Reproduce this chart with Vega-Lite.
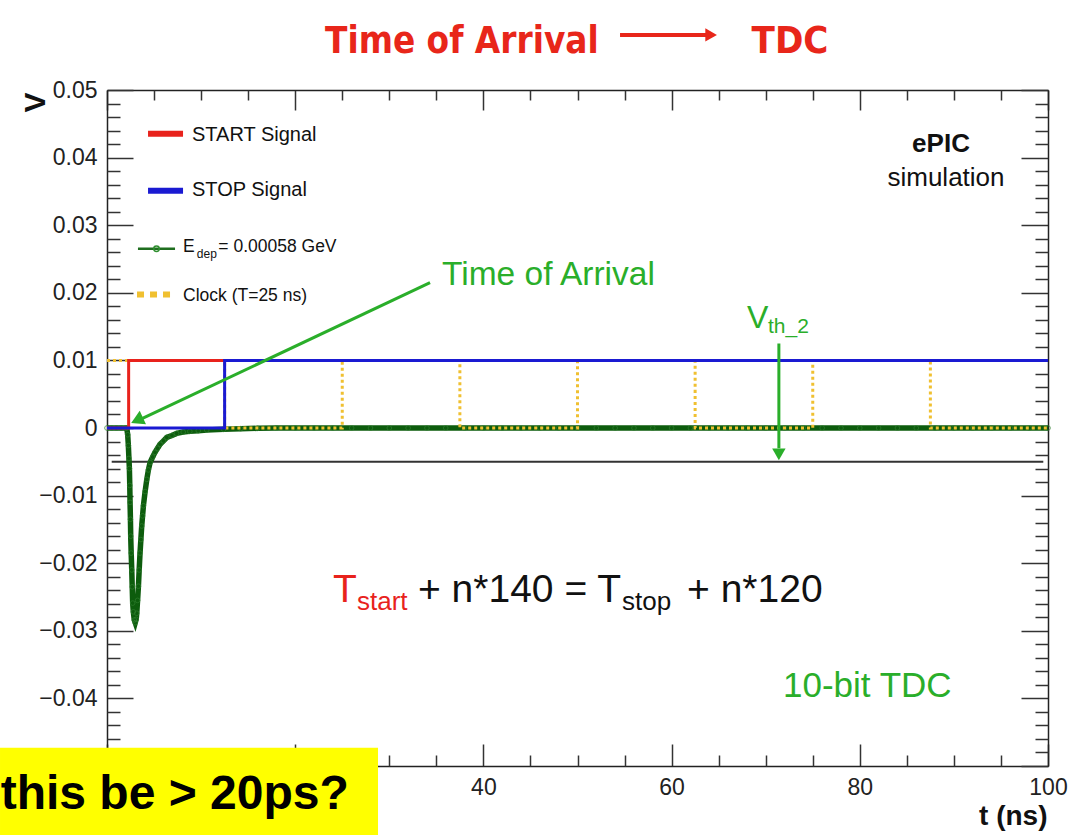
{
  "$schema": "https://vega.github.io/schema/vega-lite/v6.json",
  "width": 941,
  "height": 676,
  "autosize": {"type": "none"},
  "padding": {"left": 107, "top": 90, "right": 23, "bottom": 69},
  "background": "white",
  "config": {"view": {"stroke": null}, "font": "Liberation Sans"},
  "datasets": {
    "one": [{}],
    "thresh": [{"t": 0.5, "v": -0.005}, {"t": 99.5, "v": -0.005}],
    "edep": [
      {"t": 0, "v": 0}, {"t": 0.5, "v": 0}, {"t": 1.0, "v": 0}, {"t": 1.5, "v": 0}, {"t": 2.0, "v": 0}, {"t": 2.1, "v": 0},
      {"t": 2.2, "v": -0.001}, {"t": 2.27, "v": -0.0026}, {"t": 2.33, "v": -0.0045}, {"t": 2.38, "v": -0.006},
      {"t": 2.42, "v": -0.0085}, {"t": 2.45, "v": -0.011}, {"t": 2.49, "v": -0.0135}, {"t": 2.52, "v": -0.016},
      {"t": 2.57, "v": -0.0185}, {"t": 2.63, "v": -0.021}, {"t": 2.68, "v": -0.0235}, {"t": 2.73, "v": -0.0259},
      {"t": 2.8, "v": -0.0272}, {"t": 2.9, "v": -0.0284}, {"t": 3.0, "v": -0.0288}, {"t": 3.1, "v": -0.0283},
      {"t": 3.16, "v": -0.0274}, {"t": 3.25, "v": -0.0255}, {"t": 3.34, "v": -0.0234}, {"t": 3.42, "v": -0.021},
      {"t": 3.51, "v": -0.0185}, {"t": 3.6, "v": -0.0165}, {"t": 3.69, "v": -0.0145}, {"t": 3.78, "v": -0.013},
      {"t": 3.87, "v": -0.0115}, {"t": 4.05, "v": -0.0094}, {"t": 4.23, "v": -0.0076}, {"t": 4.4, "v": -0.0062},
      {"t": 4.58, "v": -0.0051}, {"t": 4.85, "v": -0.0043}, {"t": 5.1, "v": -0.0036}, {"t": 5.37, "v": -0.003},
      {"t": 5.64, "v": -0.0024}, {"t": 6.0, "v": -0.0019}, {"t": 6.35, "v": -0.0014}, {"t": 6.9, "v": -0.0011},
      {"t": 7.4, "v": -0.0008}, {"t": 8.1, "v": -0.0006}, {"t": 8.8, "v": -0.0005}, {"t": 9.7, "v": -0.0004},
      {"t": 10.6, "v": -0.0003}, {"t": 12.4, "v": -0.0002}, {"t": 14.2, "v": -0.0001}, {"t": 16, "v": -0.00005},
      {"t": 18, "v": 0}, {"t": 20, "v": 0}, {"t": 22, "v": 0}, {"t": 24, "v": 0}, {"t": 26, "v": 0}, {"t": 28, "v": 0},
      {"t": 30, "v": 0}, {"t": 32, "v": 0}, {"t": 34, "v": 0}, {"t": 36, "v": 0}, {"t": 38, "v": 0}, {"t": 40, "v": 0},
      {"t": 42, "v": 0}, {"t": 44, "v": 0}, {"t": 46, "v": 0}, {"t": 48, "v": 0}, {"t": 50, "v": 0}, {"t": 52, "v": 0},
      {"t": 54, "v": 0}, {"t": 56, "v": 0}, {"t": 58, "v": 0}, {"t": 60, "v": 0}, {"t": 62, "v": 0}, {"t": 64, "v": 0},
      {"t": 66, "v": 0}, {"t": 68, "v": 0}, {"t": 70, "v": 0}, {"t": 72, "v": 0}, {"t": 74, "v": 0}, {"t": 76, "v": 0},
      {"t": 78, "v": 0}, {"t": 80, "v": 0}, {"t": 82, "v": 0}, {"t": 84, "v": 0}, {"t": 86, "v": 0}, {"t": 88, "v": 0},
      {"t": 90, "v": 0}, {"t": 92, "v": 0}, {"t": 94, "v": 0}, {"t": 96, "v": 0}, {"t": 98, "v": 0}, {"t": 100, "v": 0}
    ],
    "clock": [
      {"t": 0, "v": 0.01}, {"t": 12.5, "v": 0}, {"t": 25, "v": 0.01}, {"t": 37.5, "v": 0}, {"t": 50, "v": 0.01},
      {"t": 62.5, "v": 0}, {"t": 75, "v": 0.01}, {"t": 87.5, "v": 0}, {"t": 100, "v": 0}
    ],
    "start": [{"t": 0, "v": 0}, {"t": 2.3, "v": 0.01}, {"t": 100, "v": 0.01}],
    "stop": [{"t": 0, "v": 0}, {"t": 12.5, "v": 0.01}, {"t": 100, "v": 0.01}]
  },
  "resolve": {"axis": {"x": "independent", "y": "independent"}},
  "layer": [
    {
      "data": {"name": "thresh"},
      "mark": {"type": "line", "color": "#333333", "strokeWidth": 2},
      "encoding": {
        "x": {"field": "t", "type": "quantitative", "scale": {"domain": [0, 100], "nice": false, "zero": false},
          "axis": {"orient": "bottom", "values": [0, 20, 40, 60, 80, 100], "format": "d", "labelExpr": "datum.value < 30 ? '' : datum.label", "tickSize": -22, "labelPadding": 32,
            "labelFontSize": 23, "labelFont": "Liberation Sans", "labelColor": "#222", "labelFlush": false, "labelOverlap": false,
            "domainColor": "#222", "domainWidth": 1.5, "tickColor": "#333", "tickWidth": 1.5, "grid": false,
            "title": "t (ns)", "titleFont": "Liberation Sans", "titleFontSize": 28, "titleFontWeight": "bold", "titleColor": "#111",
            "titleX": 940, "titleY": 58, "titleAlign": "right", "titleBaseline": "alphabetic", "titleAnchor": "end"}},
        "y": {"field": "v", "type": "quantitative", "scale": {"domain": [-0.05, 0.05], "nice": false, "zero": false},
          "axis": {"orient": "left", "values": [-0.05, -0.04, -0.03, -0.02, -0.01, 0, 0.01, 0.02, 0.03, 0.04, 0.05], "format": ".2~f", "labelExpr": "datum.value < -0.045 ? '' : datum.label",
            "tickSize": -26, "labelPadding": 36, "labelFontSize": 23, "labelFont": "Liberation Sans", "labelColor": "#222", "labelFlush": false, "labelOverlap": false,
            "domainColor": "#222", "domainWidth": 1.5, "tickColor": "#333", "tickWidth": 1.5, "grid": false,
            "title": "V", "titleFont": "Liberation Sans", "titleFontSize": 30, "titleFontWeight": "bold", "titleColor": "#111",
            "titleX": -72, "titleY": 12, "titleAlign": "center", "titleBaseline": "middle", "titleAngle": -90}}
      }
    },
    {
      "data": {"name": "edep"},
      "mark": {"type": "line", "color": "#0d5c0d", "strokeWidth": 5.5},
      "encoding": {
        "x": {"field": "t", "type": "quantitative", "scale": {"domain": [0, 100], "nice": false, "zero": false},
          "axis": {"orient": "bottom", "values": [5, 10, 15, 25, 30, 35, 45, 50, 55, 65, 70, 75, 85, 90, 95], "tickSize": -11, "labels": false, "domain": false,
            "tickColor": "#333", "tickWidth": 1.5, "grid": false, "title": null}},
        "y": {"field": "v", "type": "quantitative", "scale": {"domain": [-0.05, 0.05], "nice": false, "zero": false},
          "axis": {"orient": "left", "values": [-0.048, -0.046, -0.044, -0.042, -0.038, -0.036, -0.034, -0.032, -0.028, -0.026, -0.024, -0.022, -0.018, -0.016, -0.014, -0.012, -0.008, -0.006, -0.004, -0.002, 0.002, 0.004, 0.006, 0.008, 0.012, 0.014, 0.016, 0.018, 0.022, 0.024, 0.026, 0.028, 0.032, 0.034, 0.036, 0.038, 0.042, 0.044, 0.046, 0.048],
            "tickSize": -13, "labels": false, "domain": false, "tickColor": "#333", "tickWidth": 1.5, "grid": false, "title": null}}
      }
    },
    {
      "data": {"name": "edep"},
      "mark": {"type": "point", "filled": false, "color": "#2f7f2f", "size": 22, "strokeWidth": 1},
      "encoding": {
        "x": {"field": "t", "type": "quantitative", "scale": {"domain": [0, 100], "nice": false, "zero": false},
          "axis": {"orient": "top", "values": [0, 20, 40, 60, 80, 100], "tickSize": -20, "labels": false,
            "domainColor": "#222", "domainWidth": 1.5, "tickColor": "#333", "tickWidth": 1.5, "grid": false, "title": null}},
        "y": {"field": "v", "type": "quantitative", "scale": {"domain": [-0.05, 0.05], "nice": false, "zero": false},
          "axis": {"orient": "right", "values": [-0.05, -0.04, -0.03, -0.02, -0.01, 0, 0.01, 0.02, 0.03, 0.04, 0.05], "tickSize": -27, "labels": false,
            "domainColor": "#222", "domainWidth": 1.5, "tickColor": "#333", "tickWidth": 1.5, "grid": false, "title": null}}
      }
    },
    {
      "data": {"name": "clock"},
      "mark": {"type": "line", "interpolate": "step-after", "color": "#f0c030", "strokeWidth": 3, "strokeDash": [3, 3]},
      "encoding": {
        "x": {"field": "t", "type": "quantitative", "scale": {"domain": [0, 100], "nice": false, "zero": false},
          "axis": {"orient": "top", "values": [5, 10, 15, 25, 30, 35, 45, 50, 55, 65, 70, 75, 85, 90, 95], "tickSize": -10, "labels": false, "domain": false,
            "tickColor": "#333", "tickWidth": 1.5, "grid": false, "title": null}},
        "y": {"field": "v", "type": "quantitative", "scale": {"domain": [-0.05, 0.05], "nice": false, "zero": false},
          "axis": {"orient": "right", "values": [-0.048, -0.046, -0.044, -0.042, -0.038, -0.036, -0.034, -0.032, -0.028, -0.026, -0.024, -0.022, -0.018, -0.016, -0.014, -0.012, -0.008, -0.006, -0.004, -0.002, 0.002, 0.004, 0.006, 0.008, 0.012, 0.014, 0.016, 0.018, 0.022, 0.024, 0.026, 0.028, 0.032, 0.034, 0.036, 0.038, 0.042, 0.044, 0.046, 0.048],
            "tickSize": -13, "labels": false, "domain": false, "tickColor": "#333", "tickWidth": 1.5, "grid": false, "title": null}}
      }
    },
    {
      "data": {"name": "start"},
      "mark": {"type": "line", "interpolate": "step-after", "color": "#e8221c", "strokeWidth": 3},
      "encoding": {
        "x": {"field": "t", "type": "quantitative", "scale": {"domain": [0, 100], "nice": false, "zero": false}, "axis": null},
        "y": {"field": "v", "type": "quantitative", "scale": {"domain": [-0.05, 0.05], "nice": false, "zero": false}, "axis": null}
      }
    },
    {
      "data": {"name": "stop"},
      "mark": {"type": "line", "interpolate": "step-after", "color": "#1a1ad2", "strokeWidth": 3},
      "encoding": {
        "x": {"field": "t", "type": "quantitative", "scale": {"domain": [0, 100], "nice": false, "zero": false}, "axis": null},
        "y": {"field": "v", "type": "quantitative", "scale": {"domain": [-0.05, 0.05], "nice": false, "zero": false}, "axis": null}
      }
    },
    {
      "data": {"name": "one"},
      "mark": {"type": "rule", "color": "#2aae2a", "strokeWidth": 3},
      "encoding": {
        "x": {"datum": 34.33, "type": "quantitative", "scale": {"domain": [0, 100], "nice": false, "zero": false}, "axis": null},
        "x2": {"datum": 3.6},
        "y": {"datum": 0.02152, "type": "quantitative", "scale": {"domain": [-0.05, 0.05], "nice": false, "zero": false}, "axis": null},
        "y2": {"datum": 0.0013}
      }
    },
    {
      "data": {"name": "one"},
      "mark": {"type": "point", "shape": "triangle-up", "filled": true, "color": "#2aae2a", "size": 220, "angle": 245, "opacity": 1},
      "encoding": {
        "x": {"datum": 3.19, "type": "quantitative", "scale": {"domain": [0, 100], "nice": false, "zero": false}, "axis": null},
        "y": {"datum": 0.00114, "type": "quantitative", "scale": {"domain": [-0.05, 0.05], "nice": false, "zero": false}, "axis": null}
      }
    },
    {
      "data": {"name": "one"},
      "mark": {"type": "text", "text": "Time of Arrival", "font": "Liberation Sans", "fontSize": 33.5, "color": "#2aae2a", "align": "left", "baseline": "alphabetic"},
      "encoding": {
        "x": {"datum": 35.6, "type": "quantitative", "scale": {"domain": [0, 100], "nice": false, "zero": false}, "axis": null},
        "y": {"datum": 0.02108, "type": "quantitative", "scale": {"domain": [-0.05, 0.05], "nice": false, "zero": false}, "axis": null}
      }
    },
    {
      "data": {"name": "one"},
      "mark": {"type": "rule", "color": "#2aae2a", "strokeWidth": 3},
      "encoding": {
        "x": {"datum": 71.4, "type": "quantitative", "scale": {"domain": [0, 100], "nice": false, "zero": false}, "axis": null},
        "y": {"datum": 0.0125, "type": "quantitative", "scale": {"domain": [-0.05, 0.05], "nice": false, "zero": false}, "axis": null},
        "y2": {"datum": -0.003}
      }
    },
    {
      "data": {"name": "one"},
      "mark": {"type": "point", "shape": "triangle-down", "filled": true, "color": "#2aae2a", "size": 180, "opacity": 1},
      "encoding": {
        "x": {"datum": 71.4, "type": "quantitative", "scale": {"domain": [0, 100], "nice": false, "zero": false}, "axis": null},
        "y": {"datum": -0.0039, "type": "quantitative", "scale": {"domain": [-0.05, 0.05], "nice": false, "zero": false}, "axis": null}
      }
    },
    {
      "data": {"name": "one"},
      "mark": {"type": "text", "text": "V", "font": "Liberation Sans", "fontSize": 32, "color": "#2aae2a", "align": "left", "baseline": "alphabetic"},
      "encoding": {
        "x": {"datum": 68.0, "type": "quantitative", "scale": {"domain": [0, 100], "nice": false, "zero": false}, "axis": null},
        "y": {"datum": 0.01473, "type": "quantitative", "scale": {"domain": [-0.05, 0.05], "nice": false, "zero": false}, "axis": null}
      }
    },
    {
      "data": {"name": "one"},
      "mark": {"type": "text", "text": "th_2", "font": "Liberation Sans", "fontSize": 21, "color": "#2aae2a", "align": "left", "baseline": "alphabetic"},
      "encoding": {
        "x": {"datum": 70.24, "type": "quantitative", "scale": {"domain": [0, 100], "nice": false, "zero": false}, "axis": null},
        "y": {"datum": 0.01399, "type": "quantitative", "scale": {"domain": [-0.05, 0.05], "nice": false, "zero": false}, "axis": null}
      }
    },
    {
      "data": {"name": "one"},
      "mark": {"type": "text", "text": "T", "font": "Liberation Sans", "fontSize": 39, "color": "#e8221c", "align": "left", "baseline": "alphabetic"},
      "encoding": {
        "x": {"datum": 24.02, "type": "quantitative", "scale": {"domain": [0, 100], "nice": false, "zero": false}, "axis": null},
        "y": {"datum": -0.02576, "type": "quantitative", "scale": {"domain": [-0.05, 0.05], "nice": false, "zero": false}, "axis": null}
      }
    },
    {
      "data": {"name": "one"},
      "mark": {"type": "text", "text": "start", "font": "Liberation Sans", "fontSize": 26, "color": "#e8221c", "align": "left", "baseline": "alphabetic"},
      "encoding": {
        "x": {"datum": 26.57, "type": "quantitative", "scale": {"domain": [0, 100], "nice": false, "zero": false}, "axis": null},
        "y": {"datum": -0.02693, "type": "quantitative", "scale": {"domain": [-0.05, 0.05], "nice": false, "zero": false}, "axis": null}
      }
    },
    {
      "data": {"name": "one"},
      "mark": {"type": "text", "text": "+ n*140 = T", "font": "Liberation Sans", "fontSize": 39, "color": "#111111", "align": "left", "baseline": "alphabetic"},
      "encoding": {
        "x": {"datum": 33.05, "type": "quantitative", "scale": {"domain": [0, 100], "nice": false, "zero": false}, "axis": null},
        "y": {"datum": -0.02576, "type": "quantitative", "scale": {"domain": [-0.05, 0.05], "nice": false, "zero": false}, "axis": null}
      }
    },
    {
      "data": {"name": "one"},
      "mark": {"type": "text", "text": "stop", "font": "Liberation Sans", "fontSize": 26, "color": "#111111", "align": "left", "baseline": "alphabetic"},
      "encoding": {
        "x": {"datum": 54.73, "type": "quantitative", "scale": {"domain": [0, 100], "nice": false, "zero": false}, "axis": null},
        "y": {"datum": -0.02693, "type": "quantitative", "scale": {"domain": [-0.05, 0.05], "nice": false, "zero": false}, "axis": null}
      }
    },
    {
      "data": {"name": "one"},
      "mark": {"type": "text", "text": "+ n*120", "font": "Liberation Sans", "fontSize": 39, "color": "#111111", "align": "left", "baseline": "alphabetic"},
      "encoding": {
        "x": {"datum": 61.64, "type": "quantitative", "scale": {"domain": [0, 100], "nice": false, "zero": false}, "axis": null},
        "y": {"datum": -0.02576, "type": "quantitative", "scale": {"domain": [-0.05, 0.05], "nice": false, "zero": false}, "axis": null}
      }
    },
    {
      "data": {"name": "one"},
      "mark": {"type": "text", "text": "10-bit TDC", "font": "Liberation Sans", "fontSize": 35, "color": "#2aae2a", "align": "left", "baseline": "alphabetic"},
      "encoding": {
        "x": {"datum": 71.84, "type": "quantitative", "scale": {"domain": [0, 100], "nice": false, "zero": false}, "axis": null},
        "y": {"datum": -0.03978, "type": "quantitative", "scale": {"domain": [-0.05, 0.05], "nice": false, "zero": false}, "axis": null}
      }
    },
    {
      "data": {"name": "one"},
      "mark": {"type": "text", "text": "ePIC", "font": "Liberation Sans", "fontSize": 26, "fontWeight": "bold", "color": "#111111", "align": "center", "baseline": "alphabetic"},
      "encoding": {
        "x": {"datum": 88.63, "type": "quantitative", "scale": {"domain": [0, 100], "nice": false, "zero": false}, "axis": null},
        "y": {"datum": 0.04087, "type": "quantitative", "scale": {"domain": [-0.05, 0.05], "nice": false, "zero": false}, "axis": null}
      }
    },
    {
      "data": {"name": "one"},
      "mark": {"type": "text", "text": "simulation", "font": "Liberation Sans", "fontSize": 26, "color": "#111111", "align": "center", "baseline": "alphabetic"},
      "encoding": {
        "x": {"datum": 89.16, "type": "quantitative", "scale": {"domain": [0, 100], "nice": false, "zero": false}, "axis": null},
        "y": {"datum": 0.03585, "type": "quantitative", "scale": {"domain": [-0.05, 0.05], "nice": false, "zero": false}, "axis": null}
      }
    },
    {
      "data": {"name": "one"},
      "mark": {"type": "rule", "color": "#e8221c", "strokeWidth": 6},
      "encoding": {
        "x": {"datum": 4.36, "type": "quantitative", "scale": {"domain": [0, 100], "nice": false, "zero": false}, "axis": null},
        "x2": {"datum": 8.08},
        "y": {"datum": 0.04353, "type": "quantitative", "scale": {"domain": [-0.05, 0.05], "nice": false, "zero": false}, "axis": null}
      }
    },
    {
      "data": {"name": "one"},
      "mark": {"type": "text", "text": "START Signal", "font": "Liberation Sans", "fontSize": 20, "color": "#111111", "align": "left", "baseline": "alphabetic"},
      "encoding": {
        "x": {"datum": 9.03, "type": "quantitative", "scale": {"domain": [0, 100], "nice": false, "zero": false}, "axis": null},
        "y": {"datum": 0.04243, "type": "quantitative", "scale": {"domain": [-0.05, 0.05], "nice": false, "zero": false}, "axis": null}
      }
    },
    {
      "data": {"name": "one"},
      "mark": {"type": "rule", "color": "#1a1ad2", "strokeWidth": 6},
      "encoding": {
        "x": {"datum": 4.36, "type": "quantitative", "scale": {"domain": [0, 100], "nice": false, "zero": false}, "axis": null},
        "x2": {"datum": 8.08},
        "y": {"datum": 0.03511, "type": "quantitative", "scale": {"domain": [-0.05, 0.05], "nice": false, "zero": false}, "axis": null}
      }
    },
    {
      "data": {"name": "one"},
      "mark": {"type": "text", "text": "STOP Signal", "font": "Liberation Sans", "fontSize": 20, "color": "#111111", "align": "left", "baseline": "alphabetic"},
      "encoding": {
        "x": {"datum": 9.03, "type": "quantitative", "scale": {"domain": [0, 100], "nice": false, "zero": false}, "axis": null},
        "y": {"datum": 0.03437, "type": "quantitative", "scale": {"domain": [-0.05, 0.05], "nice": false, "zero": false}, "axis": null}
      }
    },
    {
      "data": {"name": "one"},
      "mark": {"type": "rule", "color": "#1f6e1f", "strokeWidth": 2.5},
      "encoding": {
        "x": {"datum": 3.29, "type": "quantitative", "scale": {"domain": [0, 100], "nice": false, "zero": false}, "axis": null},
        "x2": {"datum": 7.23},
        "y": {"datum": 0.0265, "type": "quantitative", "scale": {"domain": [-0.05, 0.05], "nice": false, "zero": false}, "axis": null}
      }
    },
    {
      "data": {"name": "one"},
      "mark": {"type": "point", "filled": false, "color": "#2f8f2f", "size": 30, "strokeWidth": 1.5, "opacity": 1},
      "encoding": {
        "x": {"datum": 5.26, "type": "quantitative", "scale": {"domain": [0, 100], "nice": false, "zero": false}, "axis": null},
        "y": {"datum": 0.0265, "type": "quantitative", "scale": {"domain": [-0.05, 0.05], "nice": false, "zero": false}, "axis": null}
      }
    },
    {
      "data": {"name": "one"},
      "mark": {"type": "text", "text": "E", "font": "Liberation Sans", "fontSize": 17.5, "color": "#111111", "align": "left", "baseline": "alphabetic"},
      "encoding": {
        "x": {"datum": 8.08, "type": "quantitative", "scale": {"domain": [0, 100], "nice": false, "zero": false}, "axis": null},
        "y": {"datum": 0.026, "type": "quantitative", "scale": {"domain": [-0.05, 0.05], "nice": false, "zero": false}, "axis": null}
      }
    },
    {
      "data": {"name": "one"},
      "mark": {"type": "text", "text": "dep", "font": "Liberation Sans", "fontSize": 12, "color": "#111111", "align": "left", "baseline": "alphabetic"},
      "encoding": {
        "x": {"datum": 9.55, "type": "quantitative", "scale": {"domain": [0, 100], "nice": false, "zero": false}, "axis": null},
        "y": {"datum": 0.02515, "type": "quantitative", "scale": {"domain": [-0.05, 0.05], "nice": false, "zero": false}, "axis": null}
      }
    },
    {
      "data": {"name": "one"},
      "mark": {"type": "text", "text": "= 0.00058 GeV", "font": "Liberation Sans", "fontSize": 17.5, "color": "#111111", "align": "left", "baseline": "alphabetic"},
      "encoding": {
        "x": {"datum": 11.83, "type": "quantitative", "scale": {"domain": [0, 100], "nice": false, "zero": false}, "axis": null},
        "y": {"datum": 0.026, "type": "quantitative", "scale": {"domain": [-0.05, 0.05], "nice": false, "zero": false}, "axis": null}
      }
    },
    {
      "data": {"name": "one"},
      "mark": {"type": "rule", "color": "#f0c030", "strokeWidth": 6, "strokeDash": [7, 6]},
      "encoding": {
        "x": {"datum": 3.19, "type": "quantitative", "scale": {"domain": [0, 100], "nice": false, "zero": false}, "axis": null},
        "x2": {"datum": 7.23},
        "y": {"datum": 0.01975, "type": "quantitative", "scale": {"domain": [-0.05, 0.05], "nice": false, "zero": false}, "axis": null}
      }
    },
    {
      "data": {"name": "one"},
      "mark": {"type": "text", "text": "Clock (T=25 ns)", "font": "Liberation Sans", "fontSize": 17.5, "color": "#111111", "align": "left", "baseline": "alphabetic"},
      "encoding": {
        "x": {"datum": 8.08, "type": "quantitative", "scale": {"domain": [0, 100], "nice": false, "zero": false}, "axis": null},
        "y": {"datum": 0.01886, "type": "quantitative", "scale": {"domain": [-0.05, 0.05], "nice": false, "zero": false}, "axis": null}
      }
    },
    {
      "data": {"name": "one"},
      "mark": {"type": "text", "text": "Time of Arrival", "font": "DejaVu Sans Condensed, DejaVu Sans", "fontSize": 36.5, "fontWeight": "bold", "color": "#e8261a", "align": "left", "baseline": "alphabetic"},
      "encoding": {
        "x": {"datum": 23.17, "type": "quantitative", "scale": {"domain": [0, 100], "nice": false, "zero": false}, "axis": null},
        "y": {"datum": 0.05549, "type": "quantitative", "scale": {"domain": [-0.05, 0.05], "nice": false, "zero": false}, "axis": null}
      }
    },
    {
      "data": {"name": "one"},
      "mark": {"type": "rule", "color": "#e8261a", "strokeWidth": 4},
      "encoding": {
        "x": {"datum": 54.52, "type": "quantitative", "scale": {"domain": [0, 100], "nice": false, "zero": false}, "axis": null},
        "x2": {"datum": 63.66},
        "y": {"datum": 0.05815, "type": "quantitative", "scale": {"domain": [-0.05, 0.05], "nice": false, "zero": false}, "axis": null}
      }
    },
    {
      "data": {"name": "one"},
      "mark": {"type": "point", "shape": "triangle-right", "filled": true, "color": "#e8261a", "size": 180, "opacity": 1},
      "encoding": {
        "x": {"datum": 64.2, "type": "quantitative", "scale": {"domain": [0, 100], "nice": false, "zero": false}, "axis": null},
        "y": {"datum": 0.05815, "type": "quantitative", "scale": {"domain": [-0.05, 0.05], "nice": false, "zero": false}, "axis": null}
      }
    },
    {
      "data": {"name": "one"},
      "mark": {"type": "text", "text": "TDC", "font": "DejaVu Sans Condensed, DejaVu Sans", "fontSize": 38, "fontWeight": "bold", "color": "#e8261a", "align": "left", "baseline": "alphabetic"},
      "encoding": {
        "x": {"datum": 68.5, "type": "quantitative", "scale": {"domain": [0, 100], "nice": false, "zero": false}, "axis": null},
        "y": {"datum": 0.05549, "type": "quantitative", "scale": {"domain": [-0.05, 0.05], "nice": false, "zero": false}, "axis": null}
      }
    },
    {
      "data": {"name": "one"},
      "mark": {"type": "rect", "color": "#ffff00", "opacity": 1},
      "encoding": {
        "x": {"datum": -11.37, "type": "quantitative", "scale": {"domain": [0, 100], "nice": false, "zero": false}, "axis": null},
        "x2": {"datum": 28.8},
        "y": {"datum": -0.0473, "type": "quantitative", "scale": {"domain": [-0.05, 0.05], "nice": false, "zero": false}, "axis": null},
        "y2": {"datum": -0.0602}
      }
    },
    {
      "data": {"name": "one"},
      "mark": {"type": "text", "text": "this be > 20ps?", "font": "Liberation Sans", "fontSize": 48, "fontWeight": "bold", "color": "#000000", "align": "left", "baseline": "alphabetic"},
      "encoding": {
        "x": {"datum": -11.3, "type": "quantitative", "scale": {"domain": [0, 100], "nice": false, "zero": false}, "axis": null},
        "y": {"datum": -0.0563, "type": "quantitative", "scale": {"domain": [-0.05, 0.05], "nice": false, "zero": false}, "axis": null}
      }
    }
  ]
}
